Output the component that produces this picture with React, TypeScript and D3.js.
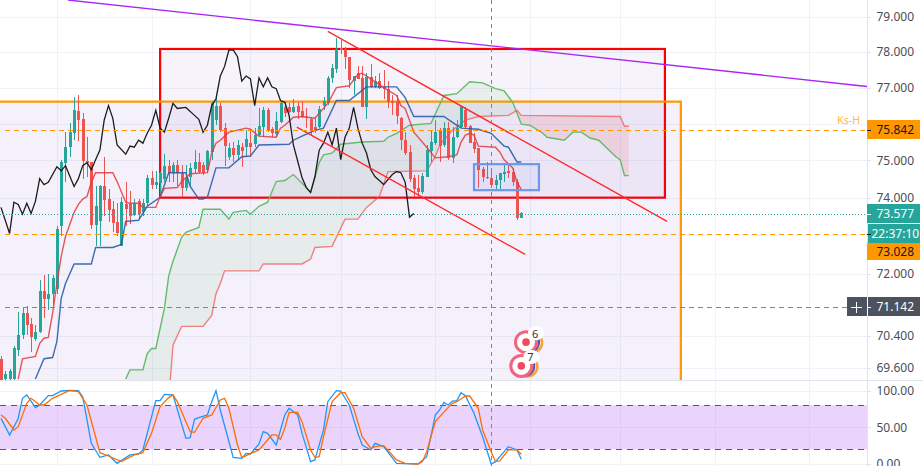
import React from "react";
import * as d3 from "d3";

const W = 923, H = 466, PANE_R = 867, PANE_B = 380;

// ---- OHLC, one entry per bar
const opens = [69.82,69.31,69.31,69.31,70.05,70.41,70.97,70.69,70.31,70.49,71.56,71.33,71.46,71.61,73.24,74.94,75.36,75.74,76.34,76.12,74.99,74.96,73.27,73.37,74.30,73.96,73.69,73.35,72.71,73.82,73.82,73.53,73.90,73.61,73.85,74.54,74.35,74.38,74.49,74.86,74.67,74.88,74.67,74.27,74.56,74.78,74.96,74.88,74.75,75.23,76.10,76.50,75.88,75.10,75.33,75.15,75.36,75.36,75.47,75.44,75.69,75.91,76.37,75.85,75.72,76.04,76.45,76.45,76.31,76.48,76.34,76.18,76.12,75.91,75.91,76.50,76.56,77.27,77.51,78.11,78.08,77.86,77.18,77.40,77.27,76.45,77.29,77.02,77.18,77.02,76.97,76.64,76.64,76.15,75.55,75.23,74.54,74.27,74.14,74.56,75.25,75.47,75.80,75.42,75.88,75.07,75.63,75.91,76.37,75.93,75.50,75.33,74.78,74.56,74.54,74.35,74.46,74.64,74.72,74.70,74.43,73.45];
const highs = [69.90,69.52,69.57,70.13,71.02,71.10,71.15,70.85,70.67,71.84,71.97,72.00,71.97,73.24,75.02,75.77,76.01,76.75,76.78,76.29,75.63,74.96,74.30,74.35,75.10,74.22,73.90,73.85,74.03,74.43,74.17,73.96,73.96,73.96,74.62,74.72,74.72,74.70,75.17,75.02,74.96,75.02,74.88,74.88,74.94,75.28,75.20,74.96,75.28,76.59,76.83,76.56,76.01,75.47,75.50,75.55,75.47,75.82,75.82,75.88,76.42,76.45,76.42,75.91,76.31,76.64,76.59,76.56,76.67,76.59,76.64,76.42,76.18,76.18,76.50,76.75,77.32,77.67,78.38,78.33,78.14,77.86,77.32,77.59,77.59,77.40,77.67,77.32,77.40,77.48,77.18,76.78,76.78,76.18,75.77,75.42,74.62,74.62,74.67,75.42,75.82,76.10,75.88,76.04,76.04,75.91,76.10,76.50,76.45,75.96,75.74,75.33,74.83,74.96,74.80,74.62,74.67,74.94,74.94,74.80,74.49,73.61];
const lows = [69.06,69.19,69.19,69.19,69.90,70.31,70.41,69.98,70.26,70.46,70.85,71.05,71.20,71.46,72.97,74.41,75.10,75.55,75.52,74.49,74.56,73.16,72.71,72.71,73.50,73.35,73.08,72.97,72.71,73.24,73.29,73.50,73.42,73.50,73.77,74.22,74.22,74.03,74.43,74.43,74.43,74.30,74.01,74.17,74.30,74.67,74.67,74.62,74.67,75.02,75.96,75.77,74.86,75.02,74.96,75.02,74.83,75.10,75.10,75.36,75.63,75.63,75.77,75.63,75.63,76.01,76.18,76.29,76.29,76.12,76.15,75.88,75.66,75.74,75.88,76.37,76.53,77.13,77.40,77.95,77.51,77.00,76.78,77.24,76.45,76.12,77.00,77.00,76.97,76.69,76.42,76.23,75.99,75.28,75.15,74.41,74.01,74.01,74.09,74.56,74.96,75.42,74.96,75.36,75.02,74.94,75.61,75.88,75.85,75.47,75.20,74.27,74.41,74.49,74.27,74.22,74.22,74.41,74.54,74.30,73.40,73.45];
const closes = [69.19,69.44,69.52,70.08,70.41,70.97,70.67,70.36,70.51,71.56,71.33,71.46,71.89,73.16,74.96,75.36,75.77,76.37,76.10,74.99,74.94,73.27,73.77,74.30,73.93,73.66,73.32,73.05,73.88,73.69,73.50,73.85,73.56,73.85,74.54,74.33,74.41,74.67,74.86,74.67,74.88,74.67,74.27,74.56,74.80,74.96,74.70,74.67,75.25,76.56,76.50,75.82,75.39,75.33,75.15,75.42,75.25,75.58,75.36,75.69,75.93,76.37,75.80,75.74,76.07,76.56,76.29,76.31,76.45,76.31,76.18,76.15,75.80,75.80,76.40,76.64,77.27,77.54,78.08,78.05,77.86,77.21,77.32,77.24,76.45,77.29,77.02,77.18,77.00,76.97,76.59,76.56,76.20,75.55,75.20,74.51,74.22,74.14,74.59,75.28,75.50,75.77,75.39,75.88,75.07,75.63,75.88,76.48,75.91,75.47,75.31,74.75,74.56,74.54,74.35,74.46,74.67,74.70,74.67,74.43,73.45,73.58];

// ---- Ichimoku lines (bar number, price)
const tenkanBars = [4,5,8,9,10,11,12,13,14,15,17,18,19,20,21,22,26,27,29,30,32,33,36,37,38,41,42,44,48,49,50,51,53,57,58,60,64,65,66,68,70,73,76,78,81,83,84,86,89,92,93,94,96,99,101,104,106,107,108,109,110,111,115,116,117,119,120,121];
const tenkanValues = [69.31,69.82,69.88,70.21,70.34,70.36,70.97,71.74,72.45,72.97,73.61,73.82,73.96,74.03,74.41,74.67,74.67,74.43,73.88,73.85,73.85,73.74,73.74,74.03,74.25,74.27,74.43,74.64,74.67,75.20,75.47,75.55,75.77,75.88,75.85,75.66,75.63,75.88,75.96,76.18,76.20,76.15,76.56,77.00,77.05,77.37,77.40,77.24,77.00,76.78,76.50,76.42,75.77,75.36,75.07,75.10,75.15,75.50,75.69,75.74,75.69,75.39,75.36,75.23,75.02,74.80,74.41,74.22];
const kijunBars = [8,10,12,13,14,15,17,21,22,26,28,29,32,34,37,39,43,44,46,47,48,50,53,56,58,60,67,68,70,73,75,78,81,85,92,94,96,100,103,105,107,111,114,117,118,120,121];
const kijunValues = [69.31,69.82,69.85,70.26,71.36,71.74,72.25,72.25,72.68,72.68,72.76,73.37,73.40,73.77,74.01,74.67,74.67,74.30,73.96,73.96,74.01,74.80,74.80,75.10,75.12,75.42,75.44,75.55,75.66,75.82,75.88,76.64,76.64,77.02,77.02,76.72,76.20,76.20,76.20,76.04,75.88,75.85,75.74,75.39,75.36,74.96,74.96];
const spanABars = [29,30,33,34,35,36,38,39,40,42,43,46,47,51,53,54,57,58,60,62,64,66,68,71,72,74,75,77,79,84,89,90,92,95,100,103,106,109,112,115,117,119,121,123,126,127,131,133,135,137,139,143,144,145,146];
const spanAValues = [69.31,69.54,69.54,69.95,70.08,70.08,71.10,71.94,72.32,72.95,73.08,73.21,73.69,73.69,73.43,73.61,73.66,73.56,73.77,73.88,74.43,74.46,74.62,74.27,74.14,74.94,75.15,75.20,75.44,75.50,75.52,75.63,75.74,75.96,76.01,76.78,76.83,77.16,77.13,76.97,76.91,76.59,75.99,75.96,75.74,75.63,75.55,75.77,75.77,75.61,75.55,75.10,75.02,74.59,74.59];
const spanBBars = [29,39,40,42,47,49,50,51,52,60,61,70,72,73,77,80,83,85,88,90,99,101,102,105,108,111,118,120,121,144,145,146];
const spanBValues = [68.30,68.80,70.16,70.64,70.64,70.92,71.48,71.74,72.07,72.07,72.25,72.25,72.38,72.68,72.71,73.43,73.43,73.74,74.03,74.70,74.72,75.10,75.42,75.82,76.10,76.20,76.23,76.37,76.23,76.20,75.93,75.93];
const chikouBars = [0,2,3,4,5,6,7,8,9,10,11,13,14,15,17,18,19,20,21,22,23,24,25,26,27,29,30,31,32,33,34,35,36,37,38,39,40,41,43,45,46,47,48,49,50,51,52,53,54,55,56,57,58,59,60,61,62,63,64,65,66,67,68,70,71,72,73,74,75,76,77,78,79,80,81,82,83,84,85,86,87,88,89,91,92,93,94,95,96];
const chikouValues = [73.74,73.05,73.88,73.82,73.56,73.85,73.58,73.90,74.51,74.35,74.41,74.83,74.72,74.86,74.30,74.51,74.86,74.94,74.75,75.02,75.28,76.10,76.50,76.15,75.42,75.17,75.39,75.36,75.55,75.47,75.74,75.96,76.37,75.88,75.77,76.15,76.56,76.42,76.45,76.23,76.12,75.77,75.96,76.50,76.69,77.32,77.59,78.05,78.05,77.86,77.18,77.32,77.24,76.50,77.27,77.02,77.27,77.02,76.97,76.64,76.59,76.23,75.42,74.54,74.27,74.14,74.56,75.28,75.47,75.77,75.42,75.88,75.02,75.63,75.88,76.45,75.88,75.47,75.20,74.75,74.56,74.46,74.35,74.62,74.70,74.67,74.41,73.48,73.58];

// ---- Stochastic pane
const stochKBars = [0,2,4,5,6,8,9,11,12,14,16,18,19,20,21,23,25,27,30,32,33,36,37,38,40,43,44,45,46,48,49,50,51,54,56,57,58,60,61,62,64,66,67,69,70,72,73,75,76,78,79,81,83,84,86,87,89,92,97,99,101,102,103,104,105,106,107,108,110,112,114,115,118,120,121];
const stochKValues = [62.1,39.5,62,89.4,93.9,76.7,80.3,93,93,99.3,100,99.8,91.6,59.9,28.1,9.1,12.3,0.9,12.3,13.6,19.1,86.2,86.2,94.8,93.9,34.9,35.8,60.8,63,66.7,84.8,99.8,73.5,9.1,7.7,14.5,13.6,27.2,44,41.7,25.9,66.7,75.8,66.7,42,3.2,5.5,46.3,84.8,99.8,99.3,80.3,41.7,25.9,19.1,28.1,23.6,0.9,0,10,66.7,73.5,83.9,80.3,85.7,86.2,97.1,93,69,37.2,0,3.2,23.6,19.1,6.4];
const stochDBars = [0,1,3,4,6,7,9,10,12,16,18,20,23,25,28,31,33,35,37,39,40,41,44,45,47,49,51,52,53,55,56,60,63,64,65,66,67,69,70,72,73,74,75,77,79,80,82,84,86,87,89,92,94,97,98,99,101,104,105,106,108,109,111,112,114,115,116,118,120,121];
const stochDValues = [66.7,62.2,46.3,50.8,82.6,89.4,80.3,80.3,89.4,100,98.4,80.3,15.4,10.9,3.2,12.3,15.4,41.7,78,90.3,93.9,84.8,44,43.1,62.2,66.7,87.1,89.4,75.8,25.9,8.6,19.1,39.5,39.5,33.6,48.5,70.3,70.3,57.6,19.1,9.1,10,37.2,84.8,97,97,75.8,37.2,21.3,23.6,25,5.5,0.9,0,3.2,16.8,57.6,77.1,82.6,84.8,92.5,92.5,75.8,46.3,16.8,3.2,4.1,19.1,19.1,13.2];
const stochGuides = [80, 20];
const stochTicks = [100, 50, 0];

// ---- Axis, grid, price levels
const priceTicks = [79, 78, 77, 76, 75, 74, 73, 72, 71, 70.4, 69.6];
const coveredTicks = [76, 73, 71];
const gridBars = [13, 35, 58, 79, 101, 123, 144, 166, 188];
const lastPrice = 73.577;
const ksLevel = 75.842;
const lowerLevel = 73.028;
const crossPrice = 71.142;
const crossBar = 114;
const countdown = "22:37:10";

// ---- Drawings (bar, price)
const redBox = { bars: [37, 154.4], prices: [78.08, 74.0] };
const orangeBox = { bars: [-10, 158.1], prices: [76.61, 60] };
const blueBox = { bars: [110, 125.1], prices: [74.9, 74.2] };
const purpleLine = { bars: [15.6, 201.4], prices: [79.47, 77.03] };
const upperChannel = { bars: [76, 154.9], prices: [78.58, 73.37] };
const lowerChannel = { bars: [68.8, 121.9], prices: [75.91, 72.5] };
const badgeBars = [122.1, 121];
const badgePrices = [70.24, 69.64];
const badgeLabels = ["6", "7"];

const font = "'Noto Sans', 'DejaVu Sans', sans-serif";
const axisColor = "#4a4d57";
const gridColor = "#f0f3fa";
const borderColor = "#e0e3eb";
const axisSize = 12;

const x = d3.scaleLinear().domain([0, 100]).range([1, 431]);
const y = d3.scaleLog().domain([69.6, 79]).range([367.5, 16.5]);
const s = d3.scaleLinear().domain([0, 100]).range([464, 390.5]);
const crisp = (v: number) => Math.round(v) + 0.5;

function series(bars: number[], values: number[], scale: (v: number) => number) {
  return d3.line<number>().x((b) => x(b)).y((_, i) => scale(values[i]))(bars) ?? "";
}

function Candles() {
  return (
    <g shapeRendering="crispEdges">
      {opens.map((o, i) => {
        const c = closes[i];
        const col = c >= o ? "#26a69a" : "#ef5350";
        const top = Math.round(y(Math.max(o, c)));
        const bottom = Math.round(y(Math.min(o, c)));
        const cx = crisp(x(i));
        return (
          <g key={i}>
            <line x1={cx} x2={cx} y1={y(highs[i])} y2={y(lows[i])} stroke={col} strokeWidth={1} />
            <rect x={cx - 1.5} width={3} y={top} height={Math.max(1, bottom - top)} fill={col} />
          </g>
        );
      })}
    </g>
  );
}

function Cloud() {
  const a = d3.scaleLinear().domain(spanABars).range(spanAValues);
  const b = d3.scaleLinear().domain(spanBBars).range(spanBValues);
  const samples = d3.range(29, 146.01, 0.1);
  const area = (test: (p: number, q: number) => boolean) =>
    d3.area<number>()
      .defined((t) => test(a(t), b(t)))
      .x((t) => x(t))
      .y0((t) => y(a(t)))
      .y1((t) => y(b(t)))(samples) ?? "";
  return (
    <g>
      <path d={area((p, q) => p >= q)} fill="rgba(90,190,90,0.09)" />
      <path d={area((p, q) => p < q)} fill="rgba(239,83,80,0.14)" />
    </g>
  );
}

function Badge({ bar, price, label }: { bar: number; price: number; label: string }) {
  const cx = x(bar);
  const cy = y(price);
  return (
    <g>
      <circle cx={cx + 6} cy={cy + 0.5} r={10} fill="#fff" stroke="#f9a23c" strokeWidth={2.6} />
      <circle cx={cx + 3} cy={cy} r={10} fill="#fff" stroke="#4a5aa8" strokeWidth={2} />
      <circle cx={cx} cy={cy} r={10.5} fill="#fff" stroke="#f3637f" strokeWidth={3} />
      <circle cx={cx} cy={cy} r={3.8} fill="#ef4a5f" />
      <rect x={cx + 2} y={cy - 16} width={16} height={14} rx={7} fill="#fff" />
      <text x={cx + 9} y={cy - 4.5} textAnchor="middle" fontFamily={font} fontSize={11} fill="#333">{label}</text>
    </g>
  );
}

function Tag({ price, text, fill, color, top, bottom }: { price: number; text: string; fill: string; color: string; top: number; bottom: number }) {
  return (
    <g>
      <rect x={PANE_R} y={top} width={53} height={bottom - top} fill={fill} />
      <line x1={PANE_R} x2={PANE_R + 4} y1={crisp(y(price))} y2={crisp(y(price))} stroke={color} />
      <text x={876.5} y={(top + bottom) / 2 + 4.3} fontFamily={font} fontSize={axisSize} fill={color}>{text}</text>
    </g>
  );
}

function App() {
  const rx = (box: { bars: number[] }) => x(box.bars[0]);
  const rw = (box: { bars: number[] }) => x(box.bars[1]) - x(box.bars[0]);
  const ry = (box: { prices: number[] }) => y(box.prices[0]);
  const rh = (box: { prices: number[] }) => y(box.prices[1]) - y(box.prices[0]);
  const seg = (l: { bars: number[]; prices: number[] }) => series(l.bars, l.prices, y);
  return (
    <svg width={W} height={H} viewBox={`0 0 ${W} ${H}`} style={{ position: "fixed", left: 0, top: 0, background: "#fff" }}>
      <defs>
        <clipPath id="main"><rect x={0} y={0} width={PANE_R} height={PANE_B} /></clipPath>
        <clipPath id="lower"><rect x={0} y={PANE_B + 1} width={PANE_R} height={H - PANE_B} /></clipPath>
      </defs>

      {/* main pane */}
      <g clipPath="url(#main)">
        {priceTicks.filter((t) => !coveredTicks.includes(t) || t === 76).map((t) => (
          <line key={t} x1={0} x2={PANE_R} y1={crisp(y(t))} y2={crisp(y(t))} stroke={gridColor} strokeWidth={1} />
        ))}
        {gridBars.map((b) => (
          <line key={b} x1={crisp(x(b))} x2={crisp(x(b))} y1={0} y2={PANE_B} stroke={gridColor} strokeWidth={1} />
        ))}
        <rect x={rx(redBox)} y={ry(redBox)} width={rw(redBox)} height={rh(redBox)} fill="rgba(103,58,183,0.06)" stroke="#ff0000" strokeWidth={2.2} />
        <rect x={rx(orangeBox)} y={ry(orangeBox)} width={rw(orangeBox)} height={rh(orangeBox)} fill="rgba(103,58,183,0.07)" stroke="#ff9800" strokeWidth={2.2} />
        <Cloud />
        <path d={series(spanABars, spanAValues, y)} fill="none" stroke="#66bb6a" strokeWidth={1.4} />
        <path d={series(spanBBars, spanBValues, y)} fill="none" stroke="#ef5350" strokeOpacity={0.7} strokeWidth={1.4} />
        <Candles />
        <path d={series(kijunBars, kijunValues, y)} fill="none" stroke="#2a5ca8" strokeOpacity={0.9} strokeWidth={1.4} />
        <path d={series(tenkanBars, tenkanValues, y)} fill="none" stroke="#e0393e" strokeOpacity={0.85} strokeWidth={1.4} />
        <path d={series(chikouBars, chikouValues, y)} fill="none" stroke="#1c1c1c" strokeWidth={1.3} />
        <path d={seg(upperChannel)} fill="none" stroke="#ff2a2a" strokeWidth={1.4} />
        <path d={seg(lowerChannel)} fill="none" stroke="#ff2a2a" strokeWidth={1.4} />
        <path d={seg(purpleLine)} fill="none" stroke="#aa22f5" strokeWidth={1.4} />
        <rect x={rx(blueBox)} y={ry(blueBox)} width={rw(blueBox)} height={rh(blueBox)} fill="rgba(33,100,243,0.05)" stroke="#6d98e8" strokeWidth={2.2} />
        <line x1={5} x2={PANE_R} y1={crisp(y(ksLevel))} y2={crisp(y(ksLevel))} stroke="#ff9800" strokeDasharray="5 4" />
        <line x1={5} x2={PANE_R} y1={crisp(y(lowerLevel))} y2={crisp(y(lowerLevel))} stroke="#ff9800" strokeDasharray="5 4" />
        <line x1={5} x2={PANE_R} y1={crisp(y(crossPrice))} y2={crisp(y(crossPrice))} stroke="#758696" strokeDasharray="5 4" />
        <line x1={0} x2={PANE_R} y1={crisp(y(lastPrice))} y2={crisp(y(lastPrice))} stroke="#26a69a" strokeDasharray="1 2" />
        {badgeBars.map((b, i) => (
          <Badge key={b} bar={b} price={badgePrices[i]} label={badgeLabels[i]} />
        ))}
        <text x={860} y={124} textAnchor="end" fontFamily={font} fontSize={10.5} fill="#ffb74d">Ks-H</text>
      </g>

      {/* stochastic pane */}
      <g clipPath="url(#lower)">
        {stochTicks.map((t) => (
          <line key={t} x1={0} x2={PANE_R} y1={crisp(s(t))} y2={crisp(s(t))} stroke={gridColor} />
        ))}
        {gridBars.map((b) => (
          <line key={b} x1={crisp(x(b))} x2={crisp(x(b))} y1={PANE_B} y2={H} stroke={gridColor} />
        ))}
        <rect x={0} y={s(stochGuides[0])} width={PANE_R} height={s(stochGuides[1]) - s(stochGuides[0])} fill="#9c27f0" fillOpacity={0.2} />
        {stochGuides.map((g) => (
          <line key={g} x1={0} x2={PANE_R} y1={crisp(s(g))} y2={crisp(s(g))} stroke="#5d5270" strokeDasharray="6 5" strokeWidth={1} />
        ))}
        <path d={series(stochKBars, stochKValues, s)} fill="none" stroke="#2196f3" strokeWidth={1.3} />
        <path d={series(stochDBars, stochDValues, s)} fill="none" stroke="#ff6d00" strokeWidth={1.3} />
      </g>

      {/* crosshair */}
      <line x1={crisp(x(crossBar))} x2={crisp(x(crossBar))} y1={0} y2={H} stroke="#758696" strokeDasharray="4 4" strokeWidth={1} />

      {/* separators */}
      <line x1={0} x2={W} y1={PANE_B + 0.5} y2={PANE_B + 0.5} stroke={borderColor} />
      <line x1={PANE_R + 0.5} x2={PANE_R + 0.5} y1={0} y2={H} stroke={borderColor} />

      {/* axis */}
      {priceTicks.filter((t) => !coveredTicks.includes(t)).map((t) => (
        <g key={t}>
          <line x1={PANE_R} x2={PANE_R + 4} y1={crisp(y(t))} y2={crisp(y(t))} stroke={borderColor} />
          <text x={876.5} y={y(t) + 4.3} fontFamily={font} fontSize={axisSize} fill={axisColor}>{t.toFixed(3)}</text>
        </g>
      ))}
      {stochTicks.map((t) => (
        <g key={t}>
          <line x1={PANE_R} x2={PANE_R + 4} y1={crisp(s(t))} y2={crisp(s(t))} stroke={borderColor} />
          <text x={876.5} y={s(t) + 4.3} fontFamily={font} fontSize={axisSize} fill={axisColor}>{t.toFixed(2)}</text>
        </g>
      ))}

      {/* price tags */}
      <Tag price={ksLevel} text={ksLevel.toFixed(3)} fill="#ff9800" color="#131722" top={120} bottom={139} />
      <Tag price={lastPrice} text={lastPrice.toFixed(3)} fill="#26a69a" color="#ffffff" top={204} bottom={223} />
      <rect x={868} y={224} width={52} height={19} fill="#26a69a" />
      <text x={871.5} y={237.5} fontFamily={font} fontSize={axisSize} fill="#fff">{countdown}</text>
      <Tag price={lowerLevel} text={lowerLevel.toFixed(3)} fill="#ff9800" color="#131722" top={243} bottom={260} />
      <rect x={847} y={297} width={73} height={19} fill="#4c525e" />
      <line x1={PANE_R + 0.5} x2={PANE_R + 0.5} y1={297} y2={316} stroke="#fff" />
      <line x1={PANE_R} x2={PANE_R + 4} y1={crisp(y(crossPrice))} y2={crisp(y(crossPrice))} stroke="#fff" />
      <path d={`M851 ${crisp(y(crossPrice))}H862M856.5 ${crisp(y(crossPrice)) - 5.5}V${crisp(y(crossPrice)) + 5.5}`} stroke="#fff" fill="none" />
      <text x={876.5} y={311} fontFamily={font} fontSize={axisSize} fill="#fff">{crossPrice.toFixed(3)}</text>
    </svg>
  );
}

export default App;
